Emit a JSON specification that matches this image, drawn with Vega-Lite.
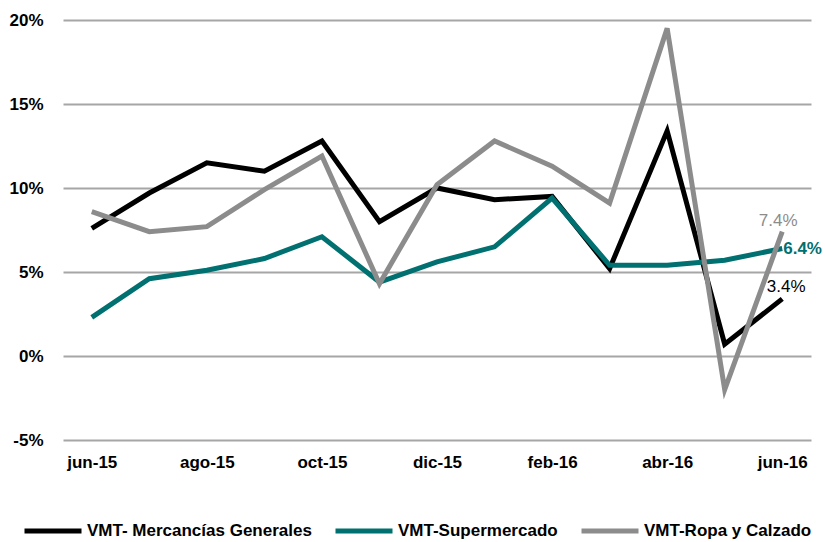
{
  "$schema": "https://vega.github.io/schema/vega-lite/v6.json",
  "width": 748,
  "height": 420,
  "autosize": {"type": "none"},
  "padding": {"left": 63, "top": 20, "right": 14, "bottom": 102},
  "background": "white",
  "config": {
    "view": {"stroke": null},
    "font": "Liberation Sans"
  },
  "data": {
    "values": [
      {"mes": "jun-15", "serie": "VMT- Mercancías Generales", "valor": 0.076},
      {"mes": "jul-15", "serie": "VMT- Mercancías Generales", "valor": 0.097},
      {"mes": "ago-15", "serie": "VMT- Mercancías Generales", "valor": 0.115},
      {"mes": "sep-15", "serie": "VMT- Mercancías Generales", "valor": 0.110},
      {"mes": "oct-15", "serie": "VMT- Mercancías Generales", "valor": 0.128},
      {"mes": "nov-15", "serie": "VMT- Mercancías Generales", "valor": 0.080},
      {"mes": "dic-15", "serie": "VMT- Mercancías Generales", "valor": 0.100},
      {"mes": "ene-16", "serie": "VMT- Mercancías Generales", "valor": 0.093},
      {"mes": "feb-16", "serie": "VMT- Mercancías Generales", "valor": 0.095},
      {"mes": "mar-16", "serie": "VMT- Mercancías Generales", "valor": 0.052},
      {"mes": "abr-16", "serie": "VMT- Mercancías Generales", "valor": 0.134},
      {"mes": "may-16", "serie": "VMT- Mercancías Generales", "valor": 0.007},
      {"mes": "jun-16", "serie": "VMT- Mercancías Generales", "valor": 0.034},
      {"mes": "jun-15", "serie": "VMT-Supermercado", "valor": 0.023},
      {"mes": "jul-15", "serie": "VMT-Supermercado", "valor": 0.046},
      {"mes": "ago-15", "serie": "VMT-Supermercado", "valor": 0.051},
      {"mes": "sep-15", "serie": "VMT-Supermercado", "valor": 0.058},
      {"mes": "oct-15", "serie": "VMT-Supermercado", "valor": 0.071},
      {"mes": "nov-15", "serie": "VMT-Supermercado", "valor": 0.044},
      {"mes": "dic-15", "serie": "VMT-Supermercado", "valor": 0.056},
      {"mes": "ene-16", "serie": "VMT-Supermercado", "valor": 0.065},
      {"mes": "feb-16", "serie": "VMT-Supermercado", "valor": 0.094},
      {"mes": "mar-16", "serie": "VMT-Supermercado", "valor": 0.054},
      {"mes": "abr-16", "serie": "VMT-Supermercado", "valor": 0.054},
      {"mes": "may-16", "serie": "VMT-Supermercado", "valor": 0.057},
      {"mes": "jun-16", "serie": "VMT-Supermercado", "valor": 0.064},
      {"mes": "jun-15", "serie": "VMT-Ropa y Calzado", "valor": 0.086},
      {"mes": "jul-15", "serie": "VMT-Ropa y Calzado", "valor": 0.074},
      {"mes": "ago-15", "serie": "VMT-Ropa y Calzado", "valor": 0.077},
      {"mes": "sep-15", "serie": "VMT-Ropa y Calzado", "valor": 0.099},
      {"mes": "oct-15", "serie": "VMT-Ropa y Calzado", "valor": 0.119},
      {"mes": "nov-15", "serie": "VMT-Ropa y Calzado", "valor": 0.043},
      {"mes": "dic-15", "serie": "VMT-Ropa y Calzado", "valor": 0.102},
      {"mes": "ene-16", "serie": "VMT-Ropa y Calzado", "valor": 0.128},
      {"mes": "feb-16", "serie": "VMT-Ropa y Calzado", "valor": 0.113},
      {"mes": "mar-16", "serie": "VMT-Ropa y Calzado", "valor": 0.091},
      {"mes": "abr-16", "serie": "VMT-Ropa y Calzado", "valor": 0.195},
      {"mes": "may-16", "serie": "VMT-Ropa y Calzado", "valor": -0.020},
      {"mes": "jun-16", "serie": "VMT-Ropa y Calzado", "valor": 0.074}
    ]
  },
  "encoding": {
    "x": {
      "field": "mes",
      "type": "ordinal",
      "sort": ["jun-15","jul-15","ago-15","sep-15","oct-15","nov-15","dic-15","ene-16","feb-16","mar-16","abr-16","may-16","jun-16"],
      "scale": {"type": "point", "padding": 0.5},
      "axis": {
        "title": null,
        "values": ["jun-15","ago-15","oct-15","dic-15","feb-16","abr-16","jun-16"],
        "labelAngle": 0,
        "labelFont": "Liberation Sans",
        "labelFontWeight": "bold",
        "labelFontSize": 17,
        "labelColor": "#000000",
        "labelPadding": 14,
        "ticks": false,
        "domain": false,
        "grid": false
      }
    },
    "y": {
      "field": "valor",
      "type": "quantitative",
      "scale": {"domain": [-0.05, 0.20], "nice": false, "zero": false},
      "axis": {
        "title": null,
        "values": [-0.05, 0, 0.05, 0.10, 0.15, 0.20],
        "labelExpr": "round(datum.value*100) + '%'",
        "labelFont": "Liberation Sans",
        "labelFontWeight": "bold",
        "labelFontSize": 17,
        "labelColor": "#000000",
        "labelPadding": 20,
        "ticks": false,
        "domain": false,
        "grid": true,
        "gridColor": "#a6a6a6",
        "gridWidth": 2,
        "gridOpacity": 1
      }
    }
  },
  "layer": [
    {
      "mark": {"type": "line", "strokeWidth": 5, "strokeJoin": "miter", "strokeCap": "butt"},
      "encoding": {
        "color": {
          "field": "serie",
          "type": "nominal",
          "scale": {
            "domain": ["VMT- Mercancías Generales", "VMT-Supermercado", "VMT-Ropa y Calzado"],
            "range": ["#000000", "#007070", "#8c8c8c"]
          },
          "legend": {
            "title": null,
            "orient": "none",
            "direction": "horizontal",
            "legendX": -41,
            "legendY": 480,
            "symbolType": "stroke",
            "symbolSize": 3249,
            "symbolStrokeWidth": 5,
            "labelFont": "Liberation Sans",
            "labelFontWeight": "bold",
            "labelFontSize": 17,
            "labelColor": "#000000",
            "labelOffset": 3,
            "columnPadding": 13,
            "labelLimit": 400
          }
        }
      }
    },
    {
      "transform": [{"filter": "datum.mes == 'jun-16' && datum.serie == 'VMT-Ropa y Calzado'"}],
      "mark": {"type": "text", "color": "#8c8c8c", "font": "Liberation Sans", "fontSize": 17, "align": "center", "baseline": "bottom", "dy": -2, "dx": -4},
      "encoding": {"text": {"field": "valor", "type": "quantitative", "format": ".1%"}}
    },
    {
      "transform": [{"filter": "datum.mes == 'jun-16' && datum.serie == 'VMT-Supermercado'"}],
      "mark": {"type": "text", "color": "#007070", "font": "Liberation Sans", "fontWeight": "bold", "fontSize": 17, "align": "left", "baseline": "middle", "dx": 1, "dy": 1},
      "encoding": {"text": {"field": "valor", "type": "quantitative", "format": ".1%"}}
    },
    {
      "transform": [{"filter": "datum.mes == 'jun-16' && datum.serie == 'VMT- Mercancías Generales'"}],
      "mark": {"type": "text", "color": "#000000", "font": "Liberation Sans", "fontSize": 17, "align": "center", "baseline": "bottom", "dy": -3, "dx": 4},
      "encoding": {"text": {"field": "valor", "type": "quantitative", "format": ".1%"}}
    }
  ]
}
